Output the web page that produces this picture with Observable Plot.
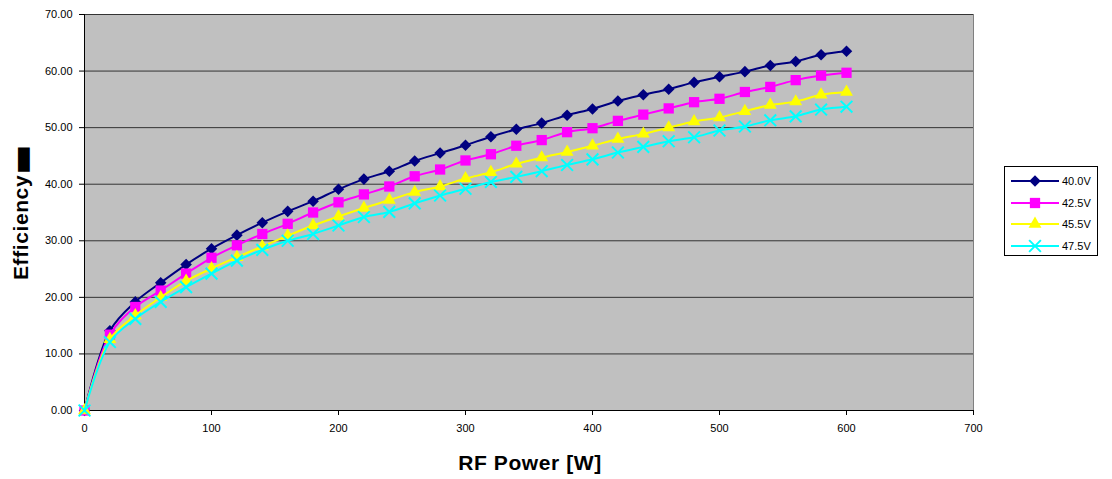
<!DOCTYPE html>
<html>
<head>
<meta charset="utf-8">
<script src="https://cdn.jsdelivr.net/npm/d3@7"></script>
<script src="https://cdn.jsdelivr.net/npm/@observablehq/plot@0.6"></script>
<style>
  html, body { margin: 0; padding: 0; background: #fff; }
  #wrap { position: relative; width: 1112px; height: 479px; }
  #legend { position: absolute; left: 1004px; top: 166px; width: 94px; height: 90px;
            border: 1px solid #000; background: #fff; box-sizing: border-box;
            font-family: "Liberation Sans", Arial, sans-serif; font-size: 11px; }
</style>
</head>
<body>
<div id="wrap"><div id="legend"></div></div>
<script>
const power = [0,20,40,60,80,100,120,140,160,180,200,220,240,260,280,300,320,340,360,380,400,420,440,460,480,500,520,540,560,580,600];
const eff40_0 = [0,14.1,19.2,22.6,25.8,28.6,31.0,33.2,35.2,37.0,39.1,40.9,42.3,44.1,45.5,46.9,48.4,49.7,50.8,52.2,53.3,54.7,55.8,56.8,58.0,59.0,59.9,61.0,61.7,62.9,63.5];
const eff42_5 = [0,13.4,18.3,21.2,24.2,27.0,29.2,31.2,33.0,35.0,36.8,38.2,39.6,41.4,42.6,44.2,45.3,46.8,47.8,49.2,49.9,51.2,52.3,53.4,54.5,55.1,56.3,57.2,58.4,59.2,59.7];
const eff45_5 = [0,12.6,16.8,20.0,22.9,25.1,27.1,29.0,30.9,32.7,34.3,35.8,37.2,38.6,39.6,41.0,42.1,43.6,44.7,45.7,46.8,48.0,48.9,50.0,51.1,51.8,52.9,54.0,54.6,55.8,56.3];
const eff47_5 = [0,12.1,16.2,19.2,21.8,24.2,26.5,28.4,30.0,31.2,32.7,34.2,35.1,36.6,38.0,39.2,40.4,41.3,42.3,43.4,44.4,45.6,46.6,47.6,48.3,49.5,50.2,51.3,52.0,53.2,53.7];
const seriesNames = ["40.0V","42.5V","45.5V","47.5V"];
const xTicks = [0,100,200,300,400,500,600,700];
const yTicks = [0,10,20,30,40,50,60,70];

const seriesStyle = [
  {name: seriesNames[0], vals: eff40_0, color: "#000080", symbol: "diamond2", r: 5.2, fill: true},
  {name: seriesNames[1], vals: eff42_5, color: "#FF00FF", symbol: "square", r: 5.8, fill: true},
  {name: seriesNames[2], vals: eff45_5, color: "#FFFF00", symbol: "triangle", r: 4.8, fill: true},
  {name: seriesNames[3], vals: eff47_5, color: "#00FFFF", symbol: "times", r: 5.4, fill: false}
];

const marks = [
  Plot.frame({fill: "#C0C0C0", stroke: "#808080"}),
  Plot.gridY(yTicks, {stroke: "#333", strokeOpacity: 1, strokeWidth: 1}),
  Plot.axisX(xTicks, {tickSize: 5, tickPadding: 9, label: null, fontSize: 11}),
  Plot.axisY(yTicks, {tickSize: 5, tickPadding: 7, label: null, fontSize: 11, tickFormat: d => d.toFixed(2)}),
  Plot.ruleY([0], {stroke: "#000"}),
  Plot.ruleX([0], {stroke: "#000"})
];
for (const s of seriesStyle) {
  const data = power.map((p, i) => ({p, v: s.vals[i]}));
  marks.push(Plot.line(data, {x: "p", y: "v", stroke: s.color, strokeWidth: 2, curve: "catmull-rom"}));
  marks.push(Plot.dot(data, s.fill
    ? {x: "p", y: "v", symbol: () => s.symbol, r: s.r, fill: s.color, stroke: "none"}
    : {x: "p", y: "v", symbol: () => s.symbol, r: s.r, stroke: s.color, strokeWidth: 2, fill: "none"}));
}

const chart = Plot.plot({
  width: 1112, height: 479,
  marginLeft: 84, marginRight: 139, marginTop: 14, marginBottom: 69,
  x: {domain: [0, 700]},
  y: {domain: [0, 70]},
  symbol: {type: "identity"},
  style: {fontFamily: "'Liberation Sans', Arial, sans-serif", fontSize: "11px", color: "#000", background: "#fff", overflow: "visible"},
  marks
});
document.getElementById("wrap").prepend(chart);

const svg = d3.select(chart);
svg.append("text").attr("x", 530).attr("y", 470).attr("text-anchor", "middle")
  .attr("font-family", "'Liberation Sans', Arial, sans-serif").attr("font-weight", "bold")
  .attr("font-size", 21).attr("letter-spacing", "0.6px").attr("fill", "#000").text("RF Power [W]");
const yt = svg.append("text").attr("transform", "translate(28,212) rotate(-90)").attr("text-anchor", "middle")
  .attr("font-family", "'Liberation Sans', Arial, sans-serif").attr("font-weight", "bold")
  .attr("font-size", 21).attr("letter-spacing", "0.6px").attr("fill", "#000");
yt.append("tspan").text("Efficiency");
yt.append("tspan").attr("font-family", "DejaVu Sans").attr("font-size", 32).attr("dy", 4).text("▬");

// legend
const symMap = {diamond2: d3.symbolDiamond2, square: d3.symbolSquare, triangle: d3.symbolTriangle, times: d3.symbolTimes};
const leg = d3.select("#legend");
seriesStyle.forEach((s, i) => {
  const row = leg.append("div").style("position", "absolute").style("left", "0px").style("top", (4 + i * 21.7) + "px")
    .style("height", "20px").style("width", "92px");
  const sv = row.append("svg").attr("width", 56).attr("height", 20).style("position", "absolute").style("left", "0px").style("top", "0px");
  sv.append("line").attr("x1", 6).attr("x2", 54).attr("y1", 10).attr("y2", 10).attr("stroke", s.color).attr("stroke-width", 2);
  const path = d3.symbol(symMap[s.symbol], Math.PI * s.r * s.r)();
  const p = sv.append("path").attr("d", path).attr("transform", "translate(30,10)");
  if (s.fill) p.attr("fill", s.color).attr("stroke", "none");
  else p.attr("fill", "none").attr("stroke", s.color).attr("stroke-width", 2);
  row.append("span").style("position", "absolute").style("left", "57px").style("top", "4px").text(s.name);
});
</script>
</body>
</html>
